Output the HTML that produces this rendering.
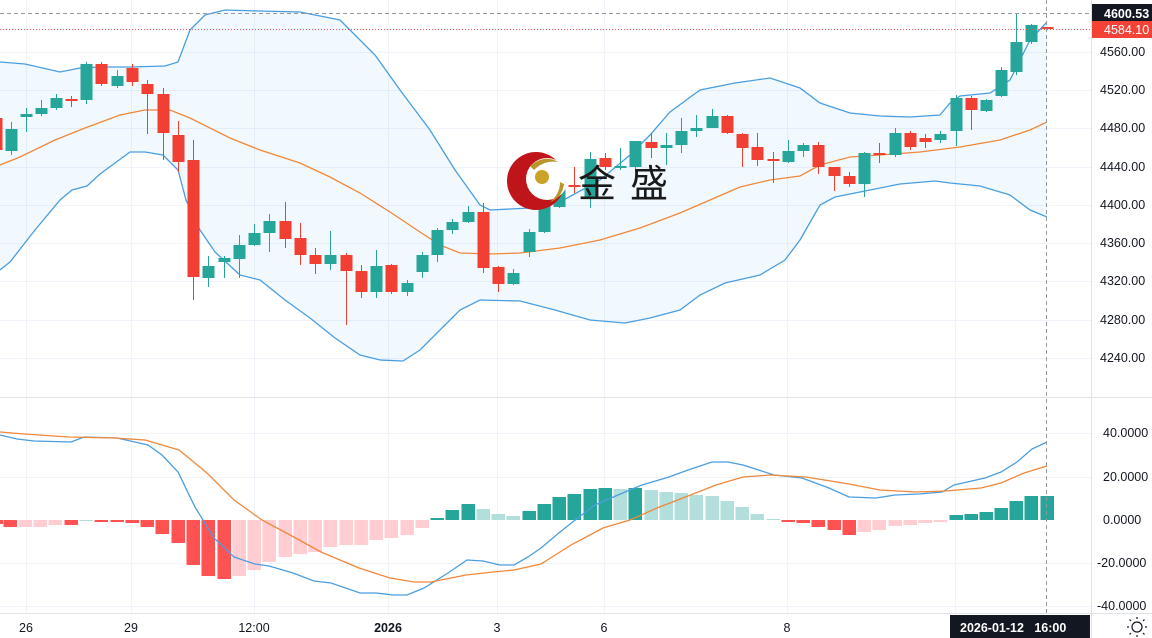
<!DOCTYPE html>
<html><head><meta charset="utf-8"><style>
html,body{margin:0;padding:0;background:#fff;width:1152px;height:638px;overflow:hidden}
svg{display:block}
text{font-family:"Liberation Sans","Noto Sans CJK SC",sans-serif}
</style></head><body>
<svg id="s" width="1152" height="638" viewBox="0 0 1152 638" xmlns="http://www.w3.org/2000/svg">
<g id="grid" stroke="#f0f3fa" stroke-width="1"></g>
<polygon id="band" fill="#2196f3" fill-opacity="0.06"></polygon>
<polyline id="up" fill="none" stroke="#4a9ee0" stroke-width="1.3"></polyline>
<polyline id="lo" fill="none" stroke="#4a9ee0" stroke-width="1.3"></polyline>
<polyline id="mid" fill="none" stroke="#f0883a" stroke-width="1.3"></polyline>
<g id="c"></g>
<g id="h"></g>
<polyline id="macd" fill="none" stroke="#4a9ee0" stroke-width="1.3"></polyline>
<polyline id="sig" fill="none" stroke="#f0883a" stroke-width="1.3"></polyline>
<!-- watermark -->
<g>
<circle cx="536" cy="181" r="29" fill="#c0141b"/>
<circle cx="547" cy="179" r="21" fill="#fff"/>
<circle cx="542" cy="177" r="7" fill="#c9a227"/>
<path d="M530 166 q14 -12 28 -4 q-14 -2 -24 8z" fill="#b8962a"/>
<path d="M564 184 q-2 14 -14 18 q10 -8 10 -20z" fill="#b8962a"/>
<text x="578" y="197" font-size="38" fill="#1a1a1a" font-family="'Noto Sans CJK SC',sans-serif" letter-spacing="14">金盛</text>
</g>
<!-- separators -->
<line x1="0" y1="397.5" x2="1152" y2="397.5" stroke="#e0e3eb"/>
<line x1="0" y1="613.5" x2="1152" y2="613.5" stroke="#e0e3eb"/>
<line x1="1091.5" y1="0" x2="1091.5" y2="638" stroke="#e0e3eb"/>
<line x1="0" y1="13.5" x2="1091" y2="13.5" stroke="#9598a1" stroke-dasharray="4,3"/>
<line x1="0" y1="29.5" x2="1091" y2="29.5" stroke="#ef5350" stroke-dasharray="1,2"/>
<line x1="1046.5" y1="0" x2="1046.5" y2="613" stroke="#9598a1" stroke-dasharray="4,3"/>
<g id="axis" font-size="12.5" fill="#131722"></g>
<rect x="1092" y="4" width="60" height="18" fill="#131722"/>
<text x="1104" y="18" font-size="12.5" fill="#fff" font-weight="bold">4600.53</text>
<rect x="1092" y="21" width="60" height="17" fill="#f44336"/>
<text x="1104" y="34" font-size="12.5" fill="#fff">4584.10</text>
<rect x="950" y="615" width="140" height="23" fill="#131722"/>
<text x="960" y="632" font-size="12.5" fill="#fff" font-weight="bold">2026-01-12 &#160; 16:00</text>
<g fill="none" stroke="#131722" stroke-width="1.2"><circle cx="1137" cy="627" r="5"/><path d="M1137 619v-2M1137 635v2M1129 627h-2M1145 627h2M1131 621l-1.5-1.5M1143 633l1.5 1.5M1143 621l1.5-1.5M1131 633l-1.5 1.5"/></g>
</svg>
<script>
var NS="http://www.w3.org/2000/svg";
function el(p,t,a){var e=document.createElementNS(NS,t);for(var k in a)e.setAttribute(k,a[k]);p.appendChild(e);return e;}
function pts(a){return a.map(function(p){return p.join(",")}).join(" ");}
var g=document.getElementById("grid");
[52,90,128,167,205,243,281,320,358,433,477,563,606].forEach(function(y){el(g,"line",{x1:0,y1:y+.5,x2:1091,y2:y+.5});});
[26,131,254,388,497,604,787,955].forEach(function(x){el(g,"line",{x1:x+.5,y1:0,x2:x+.5,y2:613});});
var up=[[0,62],[25,64],[60,72],[80,68],[100,67],[130,67],[165,66],[178,62],[190,30],[205,15],[225,10],[260,11],[300,12],[340,20],[375,55],[400,90],[430,130],[455,170],[480,205],[490,210],[530,208],[560,202],[600,180],[630,155],[650,135],[670,112],[700,90],[735,83],[770,78],[800,88],[820,103],[850,113],[880,116],[910,117],[940,115],[950,103],[960,96],[990,93],[1010,80],[1030,40],[1047,22]];
var lo=[[0,270],[10,262],[35,230],[60,200],[72,190],[87,186],[100,174],[115,163],[130,152],[145,152],[163,155],[178,170],[186,200],[200,230],[215,252],[240,275],[260,280],[285,300],[310,318],[335,338],[360,355],[380,360],[403,361],[420,350],[440,330],[460,310],[480,300],[520,301],[555,310],[590,320],[625,323],[650,318],[680,310],[700,295],[725,283],[760,275],[785,260],[800,240],[820,205],[835,197],[860,192],[900,184],[935,181],[950,183],[980,186],[1010,195],[1030,210],[1047,217]];
var mid=[[0,165],[20,157],[55,140],[85,128],[120,115],[145,110],[170,110],[190,118],[230,138],[260,150],[300,163],[330,177],[360,193],[390,212],[420,232],[440,245],[460,253],[490,254],[520,253],[560,248],[600,240],[640,228],[680,213],[710,200],[740,187],[770,180],[800,176],[820,165],[850,157],[880,155],[920,152],[960,147],[1000,140],[1030,130],[1047,122]];
document.getElementById("up").setAttribute("points",pts(up));
document.getElementById("lo").setAttribute("points",pts(lo));
document.getElementById("mid").setAttribute("points",pts(mid));
document.getElementById("band").setAttribute("points",pts(up.concat(lo.slice().reverse())));
// candles: x, bodyTop, bodyBot, wickTop, wickBot, g/r
var C=[[-4,118,150,112,155,'r'],[11,129,151,122,155,'g'],[26,114,117,108,132,'g'],[41,108,114,100,116,'g'],[56,98,108,94,110,'g'],[71,99,101,96,107,'r'],[86,64,100,62,104,'g'],[101,64,84,62,86,'r'],[117,76,86,70,88,'g'],[132,68,82,64,86,'r'],[147,84,94,80,134,'r'],[163,94,133,88,160,'r'],[178,135,162,121,172,'r'],[193,160,277,140,300,'r'],[208,266,278,256,287,'g'],[224,258,262,256,278,'g'],[239,245,259,235,278,'g'],[254,233,245,224,246,'g'],[269,221,233,214,252,'g'],[285,221,239,202,248,'r'],[300,238,255,223,265,'r'],[315,255,264,248,274,'r'],[330,255,264,231,270,'g'],[346,255,271,253,325,'r'],[361,271,292,265,298,'r'],[376,266,292,250,298,'g'],[391,265,292,264,294,'r'],[407,283,292,280,296,'g'],[422,255,272,252,278,'g'],[437,230,255,228,262,'g'],[452,222,230,219,234,'g'],[468,212,222,206,223,'g'],[483,212,268,203,273,'r'],[498,267,284,266,292,'r'],[513,273,284,269,285,'g'],[529,232,252,229,257,'g'],[544,206,232,192,233,'g'],[559,186,207,182,208,'g'],[574,185,186,167,193,'r'],[590,159,199,152,208,'g'],[605,158,167,153,170,'r'],[620,166,167,148,170,'g'],[635,141,167,141,172,'g'],[651,142,148,133,158,'r'],[666,145,148,133,165,'g'],[681,131,145,118,153,'g'],[696,128,131,115,137,'g'],[712,116,128,109,128,'g'],[727,116,133,115,134,'r'],[742,134,148,133,167,'r'],[757,147,160,133,166,'r'],[773,159,160,152,183,'r'],[788,151,162,140,163,'g'],[803,145,151,143,157,'g'],[818,145,167,142,174,'r'],[834,167,176,167,191,'r'],[849,176,184,172,187,'r'],[864,153,184,152,197,'g'],[879,153,154,143,163,'r'],[895,133,155,128,157,'g'],[910,133,147,131,150,'r'],[925,138,142,134,148,'r'],[940,134,140,131,143,'g'],[956,98,131,95,146,'g'],[971,98,110,96,130,'r'],[986,100,111,99,112,'g'],[1001,70,96,67,97,'g'],[1016,42,72,14,75,'g'],[1031,25,42,24,44,'g'],[1047,27,28,27,29,'r']];
var cg=document.getElementById("c");
C.forEach(function(c){var col=c[5]=='g'?'#26a69a':'#f23f33';
el(cg,"line",{x1:c[0]+.5,y1:c[3],x2:c[0]+.5,y2:c[4],stroke:col,"stroke-width":1});
el(cg,"rect",{x:c[0]-5.5,y:c[1],width:12,height:Math.max(2,c[2]-c[1]),fill:col});});
// histogram: x, y, type (R dark red, P pink, G teal, L light teal)
var H=[[-4,524,'R'],[10,527,'R'],[25,527,'P'],[40,527,'P'],[55,525,'P'],[71,525,'R'],[86,521,'L'],[101,522,'R'],[117,522,'R'],[132,523,'R'],[147,527,'R'],[162,534,'R'],[178,543,'R'],[193,565,'R'],[208,576,'R'],[224,579,'R'],[239,576,'P'],[254,570,'P'],[269,562,'P'],[285,557,'P'],[300,554,'P'],[315,552,'P'],[330,547,'P'],[346,545,'P'],[361,545,'P'],[376,540,'P'],[391,538,'P'],[407,535,'P'],[422,528,'P'],[437,518,'G'],[452,510,'G'],[468,504,'G'],[483,509,'L'],[498,514,'L'],[513,516,'L'],[529,511,'G'],[544,504,'G'],[559,497,'G'],[574,494,'G'],[590,489,'G'],[605,488,'G'],[620,489,'L'],[635,488,'G'],[651,490,'L'],[666,492,'L'],[681,493,'L'],[696,495,'L'],[712,496,'L'],[727,501,'L'],[742,507,'L'],[757,514,'L'],[773,519,'L'],[788,522,'R'],[803,523,'R'],[818,527,'R'],[834,530,'R'],[849,535,'R'],[864,532,'P'],[879,530,'P'],[895,526,'P'],[910,525,'P'],[925,523,'P'],[940,522,'P'],[956,515,'G'],[971,514,'G'],[986,512,'G'],[1001,508,'G'],[1016,501,'G'],[1031,496,'G'],[1047,496,'G']];
var cols={R:'#ff5252',P:'#ffcdd2',G:'#26a69a',L:'#b2dfdb'};
var hg=document.getElementById("h");
H.forEach(function(b){var y0=520,y1=b[1];el(hg,"rect",{x:b[0]-6.5,y:Math.min(y0,y1),width:13.5,height:Math.max(1,Math.abs(y1-y0)),fill:cols[b[2]]});});
var M=[[0,435],[17,439],[34,441],[71,442],[84,437],[117,438],[148,445],[162,455],[178,472],[195,507],[214,538],[234,557],[255,564],[269,566],[293,573],[314,581],[331,583],[360,593],[376,593],[393,595],[407,595],[424,588],[448,573],[467,560],[483,561],[500,565],[514,565],[528,557],[541,548],[560,532],[579,517],[595,505],[618,495],[642,485],[669,477],[688,470],[712,462],[728,462],[743,465],[774,475],[802,478],[829,488],[849,497],[876,498],[895,495],[919,494],[942,492],[954,485],[985,478],[1001,472],[1017,462],[1032,449],[1047,442]];
var S=[[0,432],[24,434],[69,437],[114,438],[145,440],[179,450],[207,473],[234,500],[262,520],[290,535],[321,552],[359,568],[390,578],[414,582],[431,582],[466,575],[493,572],[514,570],[541,564],[571,545],[603,528],[630,520],[657,508],[688,496],[716,485],[743,477],[770,475],[806,477],[849,484],[880,490],[915,492],[946,491],[981,488],[1001,483],[1024,473],[1047,466]];
document.getElementById("macd").setAttribute("points",pts(M));
document.getElementById("sig").setAttribute("points",pts(S));
var ax=document.getElementById("axis");
[[4560,56],[4520,94],[4480,132],[4440,171],[4400,209],[4360,247],[4320,285],[4280,324],[4240,362]].forEach(function(p){var t=el(ax,"text",{x:1100,y:p[1]});t.textContent=p[0]+".00";});
[["40.0000",437],["20.0000",481],["0.0000",524],["-20.0000",567],["-40.0000",610]].forEach(function(p){var t=el(ax,"text",{x:p[0][0]=='-'?1097:1103,y:p[1]});t.textContent=p[0];});
[["26",26],["29",131],["12:00",254],["2026",388],["3",497],["6",604],["8",787]].forEach(function(p){var t=el(ax,"text",{x:p[1],y:632,"text-anchor":"middle"});if(p[0]=="2026")t.setAttribute("font-weight","bold");t.textContent=p[0];});
</script>
</body></html>
